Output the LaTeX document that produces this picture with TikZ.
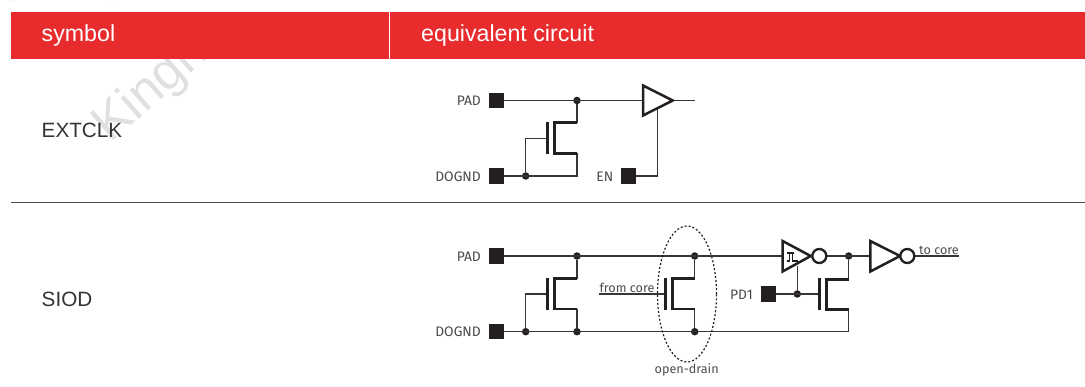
\documentclass[tikz,border=0pt]{standalone}
\usetikzlibrary{shapes.geometric}
\usepackage{fontspec}
\setmainfont{Fira Sans}
\newfontfamily\headfont{Liberation Sans}
\definecolor{headred}{HTML}{E82B2C}
\definecolor{ink}{HTML}{231F20}
\definecolor{labelgrey}{HTML}{4A4A4A}
\definecolor{rowtext}{HTML}{333333}
\definecolor{wmark}{HTML}{E0E0E0}
\tikzset{
  wire/.style={draw=ink!90,line width=1.2pt},
  thick wire/.style={draw=ink,line width=2.5pt},
  pad/.style={fill=ink,draw=none,minimum size=15.5pt,inner sep=0pt},
  junction/.style={circle,fill=ink,draw=none,minimum size=7.5pt,inner sep=0pt},
  pinlabel/.style={text=labelgrey,font=\fontsize{13.8}{15}\selectfont,inner sep=0pt},
  smalllabel/.style={text=labelgrey,font=\fontsize{12.6}{15}\selectfont,inner sep=0pt},
  headtext/.style={text=white,font=\headfont\fontsize{23.2}{26}\selectfont,anchor=west,inner sep=0pt},
  rowlabel/.style={text=rowtext,font=\headfont\fontsize{20.7}{24}\selectfont,anchor=west,inner sep=0pt},
  bubble/.style={circle,draw=ink,line width=2.3pt,fill=white,minimum size=14pt,inner sep=0pt},
}
\begin{document}
\begin{tikzpicture}[x=1pt,y=-1pt]
\useasboundingbox (0,0) rectangle (1085,387);
% watermark
\node[text=wmark,font=\headfont\fontsize{52}{52}\selectfont,rotate=41,anchor=base west,inner sep=0pt] (wm) at (110,144) {Kingh};
\draw[wmark,line width=5pt] (9,0) arc[start angle=200,end angle=235,radius=40] (114,0) arc[start angle=-10,end angle=-40,radius=30];
% header
\fill[headred] (11,12) rectangle (1085,59);
\draw[white,line width=0.7pt] (389.5,12) -- (389.5,59);
\node[headtext] (hs) at (41.5,36) {symbol};
\node[headtext] (he) at (421,36) {equivalent circuit};
\node[rowlabel] (r1) at (41.5,130.5) {EXTCLK};
\node[rowlabel] (r2) at (41.5,299.5) {SIOD};
\draw[draw=ink!80,line width=0.8pt] (11,202.5) -- (1085,202.5);
% EXTCLK
\node[pad] (p1) at (496.5,100.5) {};
\node[pad] (g1) at (496.5,176) {};
\node[pad] (en) at (628.5,176) {};
\node[pinlabel,anchor=east] at (481,101) {PAD};
\node[pinlabel,anchor=east] at (481,176.5) {DOGND};
\node[pinlabel,anchor=east] at (613.5,176.5) {EN};
\node[junction] (j1) at (577,100.5) {};
\node[junction] (j2) at (525.7,176) {};
\coordinate (bi) at (643,100.5);
\coordinate (bo) at (672.7,100.5);
\coordinate (out1) at (695,100.5);
\coordinate (ben) at (657.7,108);
\draw[wire] (p1) -- (bi) (bo) -- (out1);
\draw[wire] (g1) -- (577,176) -- (577,153.3);
\draw[wire] (j1) -- (577,122.7);
\draw[wire] (j2) -- (525.7,138.3) -- (547.3,138.3);
\draw[wire] (en) -- (657.7,176) -- (ben);
\draw[thick wire,line join=miter] (643,85.5) -- (bo) -- (643,115.5) -- cycle;
\draw[thick wire] (547.3,122.3) -- (547.3,154);
\draw[thick wire] (577,122.7) -- (554.3,122.7) -- (554.3,153.3) -- (577,153.3);
% SIOD
\node[pad] (p2) at (496.5,256) {};
\node[pad] (g2) at (496.5,331.7) {};
\node[pad] (pd) at (768.5,294) {};
\node[pinlabel,anchor=east] at (481,256.5) {PAD};
\node[pinlabel,anchor=east] at (481,332.2) {DOGND};
\node[pinlabel,anchor=east] at (753,294.5) {PD1};
\node[junction] (a1) at (577,256) {};
\node[junction] (a2) at (694.7,256) {};
\node[junction] (b0) at (525.7,331.7) {};
\node[junction] (b1) at (577,331.7) {};
\node[junction] (b2) at (694.7,331.7) {};
\node[junction] (c1) at (797.3,294) {};
\node[junction] (c2) at (848.7,256) {};
\coordinate (sl) at (782.3,256);
\coordinate (st) at (810.7,256);
\coordinate (il) at (870,256);
\coordinate (it) at (900,256);
\coordinate (core) at (959.3,256);
\coordinate (fc) at (599,294);
\coordinate (br) at (848.7,331.7);
\draw[wire] (p2) -- (sl);
\draw[wire] (g2) -- (br) -- (848.7,309.3);
\draw[wire] (b0) -- (525.7,294) -- (547.3,294);
\draw[wire] (a1) -- (577,278.7) (b1) -- (577,309);
\draw[wire] (a2) -- (694.7,278.7) (b2) -- (694.7,309);
\draw[wire] (fc) -- (665.3,294);
\draw[wire] (pd) -- (819.3,294);
\draw[wire] (c1) -- (797.3,266.5);
\draw[wire] (819,256) -- (il);
\draw[wire] (c2) -- (848.7,279.3);
\draw[wire] (907,256) -- (core);
% MOS
\draw[thick wire] (547.3,278.3) -- (547.3,310);
\draw[thick wire] (577,278.7) -- (554.3,278.7) -- (554.3,309) -- (577,309);
\draw[thick wire] (665.3,278.3) -- (665.3,310);
\draw[thick wire] (694.7,278.7) -- (672.3,278.7) -- (672.3,309) -- (694.7,309);
\draw[thick wire] (819.3,278.3) -- (819.3,310);
\draw[thick wire] (848.7,279.3) -- (826.7,279.3) -- (826.7,309.3) -- (848.7,309.3);
% gates
\draw[thick wire,fill=white] (782.6,241) -- (st) -- (782.6,271.5) -- cycle;
\draw[thick wire,fill=white] (870.3,241) -- (it) -- (870.3,271.5) -- cycle;
\node[bubble] (sb) at (819.3,256) {};
\node[bubble] (ib) at (907.3,256) {};
\draw[draw=ink,line width=1.1pt] (787,253) -- (794,253) (789.5,253) -- (789.5,261) -- (787,261)
  (792.5,253) -- (792.5,261) -- (797.5,261);
% texts
\node[smalllabel,anchor=south west] (tfc) at (599.5,292.5) {from core};
\node[smalllabel,anchor=south west] (ttc) at (919,254.5) {to core};
\node[draw=ink,dash pattern=on 2pt off 2pt,ellipse,line width=1.2pt,minimum width=59pt,minimum height=136pt,inner sep=0pt] (od) at (687,294) {};
\node[smalllabel,anchor=north] (tod) at (686.7,363.5) {open-drain};
\end{tikzpicture}
\end{document}
